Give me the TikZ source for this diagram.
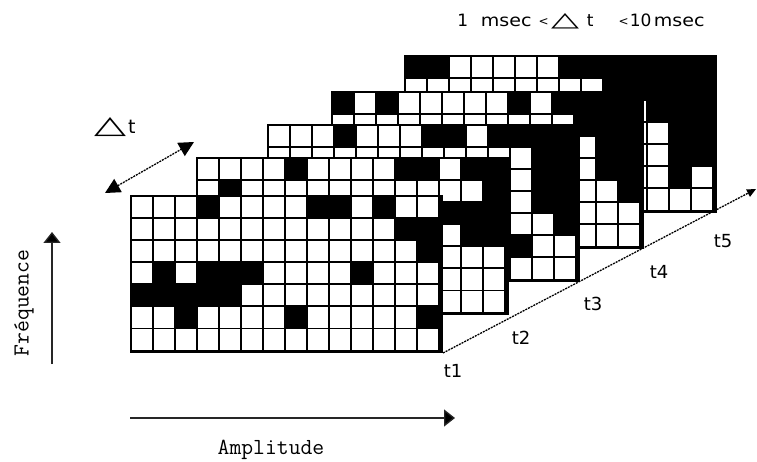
\documentclass[tikz,border=0pt]{standalone}
\usepackage{fontspec}
\usepackage{graphicx}
\usetikzlibrary{arrows.meta}
\newfontfamily\dejavu{DejaVu Sans}
% one spectrogram frame: black board with white cells (0 = white, 1 = black)
\newcommand\gridframe[3]{%
  \begin{scope}[shift={(#1,#2)}]
    \fill[black] (0,0) rectangle (313,158);
    \foreach \rw [count=\i] in {#3} {
      \foreach \cv [count=\j] in \rw {
        \ifnum\cv=0
          \fill[white] ({1.7+(\j-1)*22},{1.7+(\i-1)*22.1}) rectangle ++(20.3,20.3);
        \fi
      }
    }
  \end{scope}}
\newcommand\placetok[2]{\rlap{\hspace*{#1}\makebox[0pt]{#2}}}
\begin{document}
\begin{tikzpicture}[x=1pt,y=-1pt,
  tlbl/.style={font=\dejavu\fontsize{18}{20}\selectfont, inner sep=0pt},
  axislbl/.style={font=\ttfamily\fontsize{23}{25}\selectfont\addfontfeature{FakeBold=1.2}, inner sep=0pt},
  axisarrow/.style={line width=1.3pt, draw=black!85, -{Triangle[length=11pt,width=17pt,fill=black]}},
  dotline/.style={line width=1.3pt, dash pattern=on 2pt off 1pt}]

\fill[white] (0,0) rectangle (757,462);
\useasboundingbox (0,0) rectangle (757,462);

% frames, back to front
\gridframe{404}{55}{{1,1,0,0,0,0,0,1,1,1,1,1,1,1},{0,0,0,0,0,0,0,0,0,1,1,1,1,1},{0,0,0,0,0,0,0,0,0,0,0,1,1,1},{0,0,0,0,0,0,0,0,0,0,0,0,1,1},{0,0,0,0,0,0,0,0,0,0,0,0,1,1},{0,0,0,0,0,0,0,0,0,0,0,0,1,0},{0,0,0,0,0,0,0,0,0,0,0,0,0,0}}
\gridframe{331}{91}{{1,0,1,0,0,0,0,0,1,0,1,1,1,1},{0,0,0,0,0,0,0,0,0,0,0,1,1,1},{0,0,0,0,0,0,0,0,0,0,0,0,1,1},{0,0,0,0,0,0,0,0,0,0,0,0,1,1},{0,0,0,0,0,0,0,0,0,0,0,0,0,1},{0,0,0,0,0,0,0,0,0,0,0,0,0,0},{0,0,0,0,0,0,0,0,0,0,0,0,0,0}}
\gridframe{267}{124}{{0,0,0,1,0,0,0,1,1,0,1,1,1,1},{0,0,0,0,0,0,0,0,0,0,0,0,1,1},{0,0,0,0,0,0,0,0,0,0,0,0,1,1},{0,0,0,0,0,0,0,0,0,0,0,0,1,1},{0,0,0,0,0,0,0,0,0,0,0,0,0,1},{0,0,0,0,0,0,0,0,0,0,0,1,0,0},{0,0,0,0,0,0,0,0,0,0,0,0,0,0}}
\gridframe{196}{157}{{0,0,0,0,1,0,0,0,0,1,1,0,1,1},{0,1,0,0,0,0,0,0,0,0,0,0,0,1},{0,0,0,0,0,0,0,0,0,0,0,1,1,1},{0,0,0,0,0,0,0,0,0,0,0,0,1,1},{0,0,0,0,0,0,0,0,0,0,0,0,0,0},{0,0,0,0,0,0,0,0,0,0,0,0,0,0},{0,0,0,0,0,0,0,0,0,0,0,0,0,0}}
\gridframe{130}{195}{{0,0,0,1,0,0,0,0,1,1,0,1,0,0},{0,0,0,0,0,0,0,0,0,0,0,0,1,1},{0,0,0,0,0,0,0,0,0,0,0,0,0,1},{0,1,0,1,1,1,0,0,0,0,1,0,0,0},{1,1,1,1,1,0,0,0,0,0,0,0,0,0},{0,0,1,0,0,0,0,1,0,0,0,0,0,1},{0,0,0,0,0,0,0,0,0,0,0,0,0,0}}

% time axis
\coordinate (tA) at (443,353);
\coordinate (tB) at (756,189);
\draw[dotline, -{Triangle[length=9pt,width=8pt]}] (tA) -- (tB);
\node[tlbl] (t1) at (453,371) {t1};
\node[tlbl] (t2) at (521,338) {t2};
\node[tlbl] (t3) at (593,304) {t3};
\node[tlbl] (t4) at (659,272) {t4};
\node[tlbl] (t5) at (723,241) {t5};

% delta t double arrow
\coordinate (dA) at (105,193);
\coordinate (dB) at (194,142);
\draw[dotline, {Triangle[length=15pt,width=15pt]}-{Triangle[length=15pt,width=15pt]}] (dA) -- (dB);
\node[anchor=base west, font=\dejavu\fontsize{19}{20}\selectfont, inner sep=0pt] (dt) at (94,134)
  {\resizebox{32pt}{16pt}{△}\hspace{2pt}t};

% range label
\node[anchor=base west, font=\dejavu\fontsize{17}{19}\selectfont, inner sep=0pt] (range) at (460,27)
  {\placetok{2.5pt}{1}\placetok{46pt}{\scalebox{1.12}[1]{msec}}\placetok{83.5pt}{\raisebox{1.5pt}{\fontsize{12}{12}\selectfont<}}\placetok{105pt}{\resizebox{28pt}{13pt}{△}}\placetok{130pt}{t}\placetok{163.5pt}{\raisebox{1.5pt}{\fontsize{12}{12}\selectfont<}}\placetok{180.5pt}{10}\placetok{219pt}{\scalebox{1.12}[1]{msec}}\hspace*{245pt}};

% axes
\coordinate (fA) at (52,364);
\coordinate (fB) at (52,232);
\draw[axisarrow] (fA) -- (fB);
\node[axislbl, rotate=90] (freq) at (24,303) {Fréquence};
\coordinate (aA) at (130,418);
\coordinate (aB) at (455,418);
\draw[axisarrow] (aA) -- (aB);
\node[axislbl] (amp) at (271,450) {Amplitude};
\end{tikzpicture}
\end{document}
